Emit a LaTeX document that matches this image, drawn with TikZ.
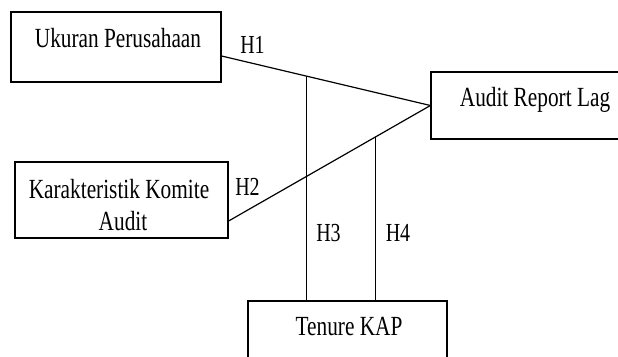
\documentclass[tikz,border=0pt]{standalone}
\usepackage{fontspec}
\setmainfont{Liberation Serif}
\usepackage{graphicx}
\newcommand{\tall}[1]{\scalebox{1}[1.3]{#1}}
\tikzset{
  boxnode/.style={draw, line width=1.2pt, inner sep=0pt, rectangle},
  lbl/.style={inner sep=0pt, anchor=base, font=\fontsize{21.3}{24}\selectfont},
  hlbl/.style={inner sep=0pt, anchor=base, font=\fontsize{20}{24}\selectfont},
  conn/.style={line width=1.2pt}
}
\begin{document}
\begin{tikzpicture}[x=1pt,y=-1pt]
\useasboundingbox (0,0) rectangle (618,356);
\clip (0,0) rectangle (618,356);
\fill[white] (0,0) rectangle (618,356);
% boxes
\node[boxnode, minimum width=210pt, minimum height=70pt] (up) at (116,47) {};
\node[boxnode, minimum width=240pt, minimum height=67pt] (ar) at (551,105.5) {};
\node[boxnode, minimum width=213pt, minimum height=76pt] (kk) at (121.5,200) {};
\node[boxnode, minimum width=199pt, minimum height=80pt] (tk) at (347.5,341) {};
% texts
\node[lbl] (tup) at (118,47.7) {\tall{Ukuran Perusahaan}};
\node[lbl] (tar) at (535,106) {\tall{Audit Report Lag}};
\node[lbl] (tkk1) at (119,198.4) {\tall{Karakteristik Komite}};
\node[lbl] (tkk2) at (123,230) {\tall{Audit}};
\node[lbl] (ttk) at (349,335) {\tall{Tenure KAP}};
% connector anchors
\coordinate (k1) at (up.east |- 0,56);
\coordinate (k2) at (kk.east |- 0,221);
\path (k1) -- (ar.west) coordinate[pos=0.4067] (j3);
\path (k2) -- (ar.west) coordinate[pos=0.729] (j4);
% connectors
\draw[conn] (k1) -- (ar.west);
\draw[conn] (k2) -- (ar.west);
\draw[conn] (j3) -- (j3 |- tk.north);
\draw[conn] (j4) -- (j4 |- tk.north);
% labels
\node[hlbl] (h1) at (252.5,53.3) {\tall{H1}};
\node[hlbl] (h2) at (247.5,195) {\tall{H2}};
\node[hlbl] (h3) at (328.5,241.7) {\tall{H3}};
\node[hlbl] (h4) at (398,241.7) {\tall{H4}};
\end{tikzpicture}
\end{document}
